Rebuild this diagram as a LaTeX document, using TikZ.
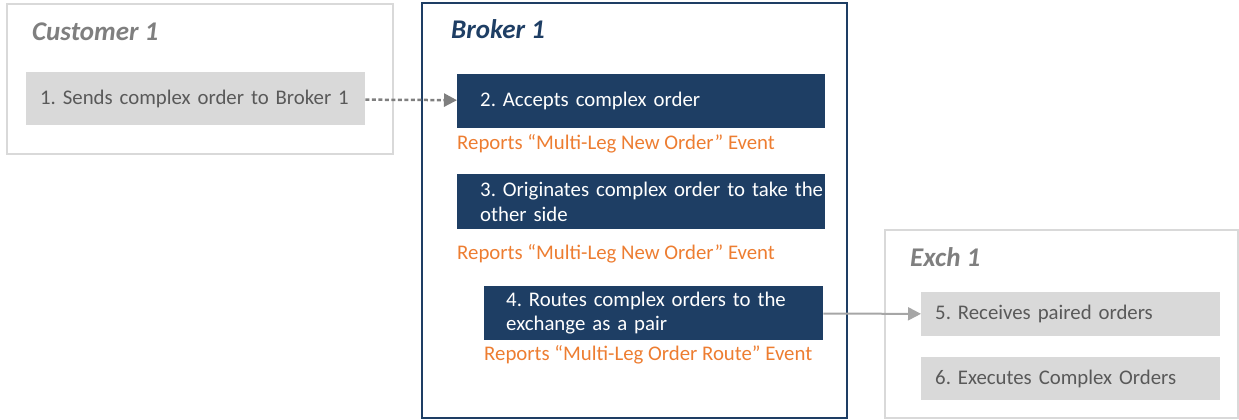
\documentclass[tikz,border=0pt]{standalone}
\usepackage{fontspec}
\setmainfont{Carlito}
\usepackage{xcolor}
\usetikzlibrary{arrows.meta}
\usetikzlibrary{math}

\definecolor{navy}{RGB}{30,62,100}
\definecolor{boxgray}{RGB}{217,217,217}
\definecolor{framegray}{RGB}{217,217,217}
\definecolor{textgray}{RGB}{89,89,89}
\definecolor{titlegray}{RGB}{127,127,127}
\definecolor{arrowgray}{RGB}{166,166,166}
\definecolor{reportorange}{RGB}{237,125,49}

\newcommand{\bodyfont}{\fontsize{20.8}{24.5}\selectfont}
\newcommand{\titlefont}{\fontsize{27}{30}\selectfont\bfseries\itshape}
\frenchspacing

\begin{document}
\begin{tikzpicture}[x=1pt,y=-1pt,
  frame/.style={draw=framegray, line width=2, anchor=north west, inner sep=0},
  title/.style={anchor=west, inner sep=0, font=\titlefont},
  stepbox/.style={anchor=north west, align=left, inner sep=0, font=\bodyfont,
    execute at begin node={\leftskip=#1pt}},
  graybox/.style={stepbox=#1, fill=boxgray, text=textgray},
  bluebox/.style={stepbox=#1, fill=navy, text=white},
  report/.style={anchor=west, inner sep=0, text=reportorange, font=\bodyfont},
  arr/.style={-{Triangle[length=13pt,width=13pt]}, arrowgray, line width=2}]
\tikzmath{
\bw=368;
\sw=299;
}
\useasboundingbox (0,0) rectangle (1239,420);

% frames
\node[frame, minimum width=386pt, minimum height=150pt] (cust) at (6,3) {};
\node[frame, draw=navy, line width=2.4, minimum width=425pt, minimum height=415pt] (brok) at (421,2) {};
\node[frame, minimum width=353pt, minimum height=188pt] (exch) at (884,229) {};

\node[title, text=titlegray] (custtitle) at (32,32) {Customer 1};
\node[title, text=navy] (broktitle) at (451,29) {Broker 1};
\node[title, text=titlegray] (exchtitle) at (910,257) {Exch 1};

% steps
\node[graybox=14, text width=339pt, minimum height=53pt] (step1) at (26,72)
  {1. Sends complex order to Broker 1};
\node[bluebox=23, text width=\bw pt, minimum height=54pt] (step2) at (457,74)
  {2. Accepts complex order};
\node[bluebox=23, text width=\bw pt, minimum height=55pt] (step3) at (457,174)
  {3. Originates complex order to take the\\other side};
\node[bluebox=22, text width=339pt, minimum height=54pt] (step4) at (484,286)
  {4. Routes complex orders to the\\exchange as a pair};
\node[graybox=14, text width=\sw pt, minimum height=44pt] (step5) at (921,292)
  {5. Receives paired orders};
\node[graybox=14, text width=\sw pt, minimum height=43pt] (step6) at (921,357)
  {6. Executes Complex Orders};

% reported events
\node[report] (rep2) at (457,144) {Reports “Multi-Leg New Order” Event};
\node[report] (rep3) at (457,254) {Reports “Multi-Leg New Order” Event};
\node[report] (rep4) at (484,355) {Reports “Multi-Leg Order Route” Event};

\draw[arr, titlegray, line width=2.5, dash pattern=on 4pt off 2.5pt] (step1) -- (step2);
\draw[arr] (step4) -- (step5);

\end{tikzpicture}
\end{document}
